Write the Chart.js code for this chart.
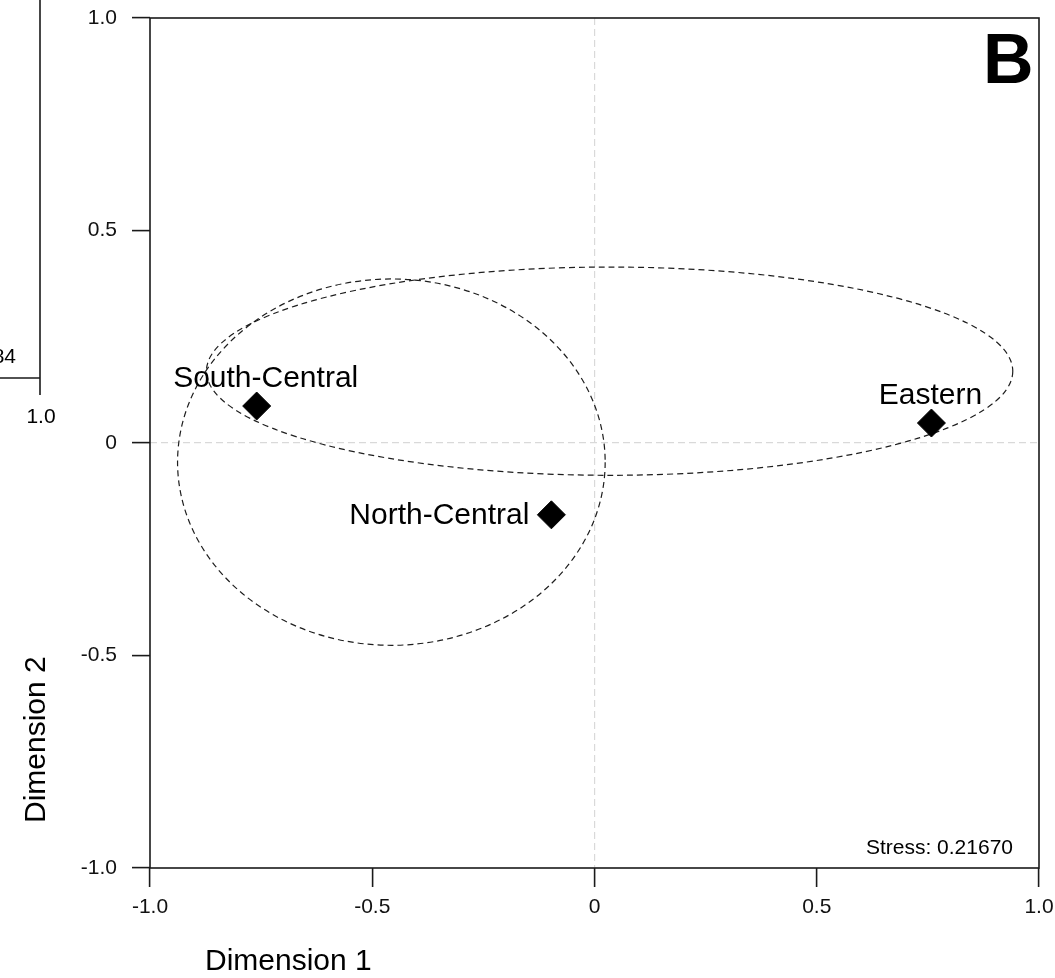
<!DOCTYPE html>
<html>
<head>
<meta charset="utf-8">
<title>MDS - Dimension 1 vs Dimension 2</title>
<script src="https://cdn.jsdelivr.net/npm/chart.js@4/dist/chart.umd.min.js"></script>
<style>
  html, body { margin: 0; padding: 0; background: #fff; }
  #wrap { width: 1055px; height: 978px; position: relative; }
</style>
</head>
<body>
<div id="wrap"><canvas id="mds" width="1055" height="978"></canvas></div>
<script>
// regions and their coordinates in the MDS plot
const regions = ['South-Central', 'North-Central', 'Eastern'];
const dim1 = [-0.76, -0.097, 0.758];
const dim2 = [0.087, -0.169, 0.047];

// confidence ellipses (centre and half-axes, in data units)
const ellipseCx = [-0.457, 0.034];
const ellipseCy = [-0.045, 0.169];
const ellipseRx = [0.481, 0.907];
const ellipseRy = [0.431, 0.245];

// axis ticks
const xTickLabels = ['-1.0', '-0.5', '0', '0.5', '1.0'];
const yTickLabels = ['-1.0', '-0.5', '0', '0.5', '1.0'];

const stressText = 'Stress: 0.21670';
const panelLetter = 'B';

const FONT = "'Liberation Sans', Arial, Helvetica, sans-serif";
const INK = '#1a1a1a';

// where each point label sits relative to its marker (pixels)
const labelPlace = [
    { dx: 9, dy: -19, align: 'center', base: 'alphabetic' },
    { dx: -22, dy: 1, align: 'right', base: 'middle' },
    { dx: -1, dy: -19, align: 'center', base: 'alphabetic' }
];

const points = dim1.map((x, i) => ({ x: x, y: dim2[i] }));

const ellipsePlugin = {
    id: 'ellipses',
    beforeDatasetsDraw(chart) {
        const ctx = chart.ctx;
        const xs = chart.scales.x, ys = chart.scales.y;
        ctx.save();
        ctx.strokeStyle = '#1e1e1e';
        ctx.lineWidth = 1.2;
        ctx.setLineDash([6, 4]);
        ellipseCx.forEach((cx, i) => {
            const px = xs.getPixelForValue(cx);
            const py = ys.getPixelForValue(ellipseCy[i]);
            const rx = Math.abs(xs.getPixelForValue(cx + ellipseRx[i]) - px);
            const ry = Math.abs(ys.getPixelForValue(ellipseCy[i] + ellipseRy[i]) - py);
            ctx.beginPath();
            ctx.ellipse(px, py, rx, ry, 0, 0, Math.PI * 2);
            ctx.stroke();
        });
        ctx.restore();
    }
};

const decorPlugin = {
    id: 'decor',
    afterDraw(chart) {
        const ctx = chart.ctx;
        const a = chart.chartArea;
        const xs = chart.scales.x, ys = chart.scales.y;
        ctx.save();

        // frame of the plot
        ctx.strokeStyle = INK;
        ctx.lineWidth = 1.6;
        ctx.strokeRect(a.left, a.top, a.right - a.left, a.bottom - a.top);

        // point labels
        ctx.fillStyle = '#000';
        ctx.font = '30px ' + FONT;
        regions.forEach((name, i) => {
            const p = labelPlace[i];
            ctx.textAlign = p.align;
            ctx.textBaseline = p.base;
            ctx.fillText(name, xs.getPixelForValue(dim1[i]) + p.dx, ys.getPixelForValue(dim2[i]) + p.dy);
        });

        // stress value
        ctx.font = '21px ' + FONT;
        ctx.textAlign = 'right';
        ctx.textBaseline = 'alphabetic';
        ctx.fillText(stressText, a.right - 26, a.bottom - 14);

        // panel letter
        ctx.font = 'bold 70px ' + FONT;
        ctx.textAlign = 'left';
        ctx.fillText(panelLetter, 983, 83);

        // axis titles
        ctx.font = '30px ' + FONT;
        ctx.fillText('Dimension 1', 205, 970);
        ctx.save();
        ctx.translate(45, 823);
        ctx.rotate(-Math.PI / 2);
        ctx.fillText('Dimension 2', 0, 0);
        ctx.restore();

        // edge of the neighbouring panel, cut off by the crop
        ctx.strokeStyle = INK;
        ctx.lineWidth = 1.6;
        ctx.beginPath();
        ctx.moveTo(40, 0);
        ctx.lineTo(40, 395);
        ctx.moveTo(0, 378);
        ctx.lineTo(40, 378);
        ctx.stroke();
        ctx.font = '21px ' + FONT;
        ctx.textAlign = 'right';
        ctx.fillText('84', 16, 363);
        ctx.textAlign = 'center';
        ctx.fillText('1.0', 41, 423);

        ctx.restore();
    }
};

const zeroGrid = (c) => (c.tick && c.tick.value === 0 ? '#d9d9d9' : 'rgba(0,0,0,0)');

new Chart(document.getElementById('mds'), {
    type: 'scatter',
    data: {
        datasets: [{
            label: 'Regions',
            data: points,
            pointStyle: 'rectRot',
            pointRadius: 14,
            pointHoverRadius: 14,
            backgroundColor: '#000',
            borderColor: '#000',
            borderWidth: 1
        }]
    },
    options: {
        responsive: false,
        animation: false,
        layout: { padding: { top: 18, right: 16, left: 0, bottom: 0 } },
        plugins: {
            legend: { display: false },
            tooltip: { enabled: false }
        },
        scales: {
            x: {
                type: 'linear',
                min: -1,
                max: 1,
                afterFit(scale) {
                    scale.height = 110;
                    scale.paddingLeft = 0;
                    scale.paddingRight = 0;
                },
                afterBuildTicks(scale) {
                    scale.ticks = xTickLabels.map(t => ({ value: parseFloat(t) }));
                },
                ticks: {
                    color: '#111',
                    font: { size: 21, family: FONT },
                    padding: 8,
                    maxRotation: 0,
                    autoSkip: false,
                    callback: (v, i) => xTickLabels[i]
                },
                grid: {
                    color: zeroGrid,
                    lineWidth: 1.2,
                    tickColor: INK,
                    tickWidth: 1.6,
                    tickLength: 19
                },
                border: { display: false, dash: [7, 4] }
            },
            y: {
                type: 'linear',
                min: -1,
                max: 1,
                afterFit(scale) {
                    scale.width = 150;
                    scale.paddingTop = 0;
                    scale.paddingBottom = 0;
                },
                afterBuildTicks(scale) {
                    scale.ticks = yTickLabels.map(t => ({ value: parseFloat(t) }));
                },
                ticks: {
                    color: '#111',
                    font: { size: 21, family: FONT },
                    padding: 15,
                    autoSkip: false,
                    callback: (v, i) => yTickLabels[i]
                },
                grid: {
                    color: zeroGrid,
                    lineWidth: 1.2,
                    tickColor: INK,
                    tickWidth: 1.6,
                    tickLength: 18
                },
                border: { display: false, dash: [7, 4] }
            }
        }
    },
    plugins: [ellipsePlugin, decorPlugin]
});
</script>
</body>
</html>
